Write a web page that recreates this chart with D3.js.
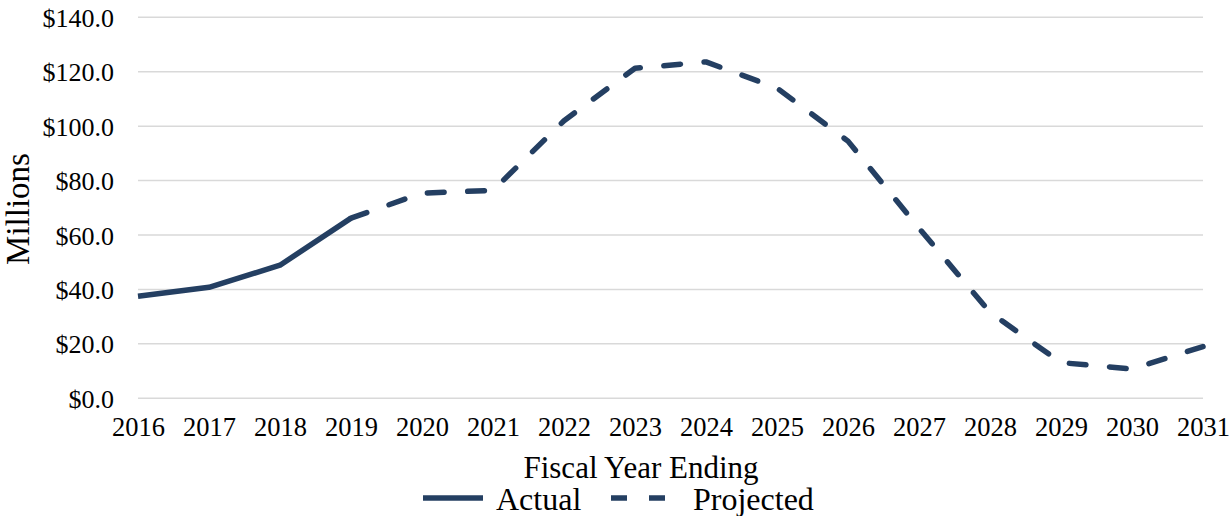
<!DOCTYPE html>
<html>
<head>
<meta charset="utf-8">
<script src="https://cdn.jsdelivr.net/npm/d3@7"></script>
<style>
  html, body { margin: 0; padding: 0; background: #fff; }
  svg { display: block; }
  text { font-family: "Liberation Serif", "Times New Roman", serif; fill: #000; }
</style>
</head>
<body>
<svg id="chart" width="1229" height="516"></svg>
<script>
// Fiscal years and annual values ($ millions)
const years = [2016, 2017, 2018, 2019, 2020, 2021, 2022, 2023, 2024, 2025, 2026, 2027, 2028, 2029, 2030, 2031];
const actualYears = [2016, 2017, 2018, 2019];
const actualValues = [37.5, 40.8, 48.9, 66.2];
const projectedYears = [2019, 2020, 2021, 2022, 2023, 2024, 2025, 2026, 2027, 2028, 2029, 2030, 2031];
const projectedValues = [66.2, 75.4, 76.4, 102.0, 121.3, 123.6, 114.0, 94.5, 62.5, 31.6, 13.1, 10.8, 19.0];
const yTicks = [0, 20, 40, 60, 80, 100, 120, 140];
const legendLabels = ["Actual", "Projected"];

const color = "#243f62";
const svg = d3.select("#chart");

const x = d3.scaleLinear().domain([2016, 2031]).range([138, 1203]);
const y = d3.scaleLinear().domain([0, 140]).range([398.3, 17.3]);

// horizontal gridlines
svg.append("g")
  .selectAll("line")
  .data(yTicks)
  .join("line")
  .attr("x1", x(2016)).attr("x2", x(2031))
  .attr("y1", d => y(d)).attr("y2", d => y(d))
  .attr("stroke", "#d9d9d9")
  .attr("stroke-width", 1.5);

// y axis labels
const yAxis = d3.axisLeft(y).tickValues(yTicks).tickSize(0).tickPadding(0)
  .tickFormat(d => "$" + d3.format(".1f")(d));
svg.append("g")
  .attr("transform", "translate(114,0)")
  .call(yAxis)
  .call(g => g.select(".domain").remove())
  .selectAll("text")
  .attr("font-family", "Liberation Serif, Times New Roman, serif")
  .attr("font-size", 26)
  .attr("fill", "#000")
  .attr("dy", "0.35em");

// x axis labels
const xAxis = d3.axisBottom(x).tickValues(years).tickSize(0).tickPadding(0)
  .tickFormat(d3.format("d"));
svg.append("g")
  .attr("transform", "translate(0,412)")
  .call(xAxis)
  .call(g => g.select(".domain").remove())
  .selectAll("text")
  .attr("font-family", "Liberation Serif, Times New Roman, serif")
  .attr("font-size", 26.5)
  .attr("fill", "#000")
  .attr("dy", "0.9em");

// axis titles
svg.append("text")
  .attr("x", 641).attr("y", 478)
  .attr("text-anchor", "middle")
  .attr("font-size", 31)
  .text("Fiscal Year Ending");

svg.append("text")
  .attr("transform", "translate(29,209) rotate(-90)")
  .attr("text-anchor", "middle")
  .attr("font-size", 33)
  .text("Millions");

// series lines
const line = d3.line()
  .x(d => x(d[0]))
  .y(d => y(d[1]));

svg.append("path")
  .datum(actualYears.map((yr, i) => [yr, actualValues[i]]))
  .attr("d", line)
  .attr("fill", "none")
  .attr("stroke", color)
  .attr("stroke-width", 5.5)
  .attr("stroke-linejoin", "round");

const projPath = svg.append("path")
  .datum(projectedYears.map((yr, i) => [yr, projectedValues[i]]))
  .attr("d", line)
  .attr("fill", "none")
  .attr("stroke", color)
  .attr("stroke-width", 5.5)
  .attr("stroke-linecap", "round")
  .attr("stroke-linejoin", "round");

// stretch the dash pattern slightly so the line starts and ends on a dash
{
  const dash = 17, gap = 24;
  const len = projPath.node().getTotalLength();
  const n = Math.max(1, Math.round((len + gap) / (dash + gap)));
  const k = (len + gap) / (n * (dash + gap));
  projPath.attr("stroke-dasharray", `${dash * k} ${gap * k}`);
}

// legend
const lg = svg.append("g");
lg.append("line")
  .attr("x1", 423).attr("x2", 483).attr("y1", 498).attr("y2", 498)
  .attr("stroke", color).attr("stroke-width", 5.5);
lg.append("text")
  .attr("x", 496).attr("y", 510)
  .attr("font-size", 32)
  .text(legendLabels[0]);
lg.append("line")
  .attr("x1", 611).attr("x2", 670).attr("y1", 498).attr("y2", 498)
  .attr("stroke", color).attr("stroke-width", 5.5)
  .attr("stroke-dasharray", "16 22");
lg.append("text")
  .attr("x", 693).attr("y", 510)
  .attr("font-size", 32)
  .text(legendLabels[1]);
</script>
</body>
</html>
